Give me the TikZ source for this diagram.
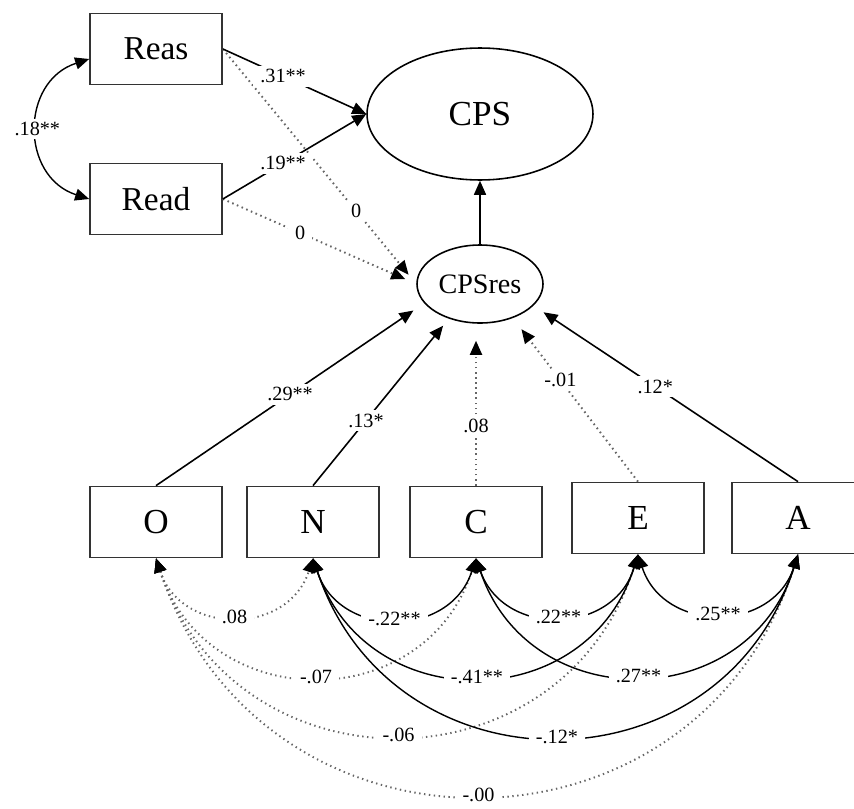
\documentclass[tikz,border=0pt]{standalone}
\usepackage{fontspec}
\setmainfont{Liberation Serif}
\usetikzlibrary{arrows.meta,shapes.geometric}

\begin{document}
\begin{tikzpicture}[x=0.02cm,y=-0.02cm,  %pixel-like units
	obs/.style={draw=black!80, line width=1pt, minimum width=2.64cm, minimum height=1.42cm, inner sep=0pt},
	lat/.style={draw, ellipse, line width=0.9pt, inner sep=0pt},
	reg/.style={-{Triangle[length=0.28cm,width=0.24cm,black]}, line width=0.9pt},
	regns/.style={reg, dotted, draw=black!60, line width=1.1pt},
	cov/.style={{Triangle[length=0.28cm,width=0.24cm,black]}-{Triangle[length=0.28cm,width=0.24cm,black]}, line width=0.8pt, bend right=72, looseness=1.33},
	covns/.style={cov, dotted, draw=black!60, line width=1.1pt},
	coef/.style={fill=white, inner xsep=4pt, inner ysep=2pt, font=\fontsize{11.5}{13}\selectfont}]
	\useasboundingbox (0,0) rectangle (854,808); %Margens
		%Variaveis
	\node[obs, font=\fontsize{19}{22}\selectfont] (reas) at (156,49) {Reas};
	\node[obs, font=\fontsize{19}{22}\selectfont] (read) at (156,199) {Read};
	\node[lat, minimum width=4.52cm, minimum height=2.64cm, font=\fontsize{20}{24}\selectfont] (cps) at (480,114) {CPS};
	\node[lat, minimum width=2.52cm, minimum height=1.56cm, font=\fontsize{16}{19}\selectfont] (cpsres) at (480,284) {CPSres};
	\node[obs, font=\fontsize{20}{24}\selectfont] (o) at (156,522) {O};
	\node[obs, font=\fontsize{20}{24}\selectfont] (n) at (313,522) {N};
	\node[obs, font=\fontsize{20}{24}\selectfont] (c) at (476,522) {C};
	\node[obs, font=\fontsize{20}{24}\selectfont] (e) at (638,518) {E};
	\node[obs, font=\fontsize{20}{24}\selectfont] (a) at (798,518) {A};
		%Caminhos para CPS
	\draw[regns, shorten >=0.24cm] (reas.east) -- node[coef, pos=0.69]{0} (cpsres.west);
	\draw[regns, shorten >=0.24cm] (read.east) -- node[coef, pos=0.4]{0} (cpsres.west);
	\draw[reg] (reas.east) -- node[coef, pos=0.42]{.31**} (cps.west);
	\draw[reg] (read.east) -- node[coef, pos=0.42]{.19**} (cps.west);
	\draw[reg] (cpsres.north) -- (cps.south);
	\draw[cov] ([yshift=-0.2cm]reas.west) to node[coef]{.18**} (read.west); %Covariancia
		%Caminhos para CPSres
	\draw[reg, shorten >=0.26cm] (o.north) -- node[coef, pos=0.5]{.29**} (cpsres.199);
	\draw[reg, shorten >=0.18cm] (n.north) -- node[coef, pos=0.39]{.13*} (cpsres.228);
	\draw[regns, shorten >=0.34cm] (c.north) -- node[coef, pos=0.37]{.08} (c.north |- cpsres.south);
	\draw[regns, shorten >=0.28cm] (e.north) -- node[coef, pos=0.62]{-.01} (cpsres.314);
	\draw[reg, shorten >=0.24cm] (a.north) -- node[coef, pos=0.54]{.12*} (cpsres.338);
		%Covariancias
	\draw[covns] (o.south) to node[coef]{-.00} (a.south);
	\draw[covns] (o.south) to node[coef]{-.06} (e.south);
	\draw[covns] (o.south) to node[coef]{-.07} (c.south);
	\draw[covns] (o.south) to node[coef]{.08} (n.south);
	\draw[cov] (n.south) to node[coef]{-.12*} (a.south);
	\draw[cov] (n.south) to node[coef]{-.41**} (e.south);
	\draw[cov] (c.south) to node[coef]{.27**} (a.south);
	\draw[cov] (n.south) to node[coef]{-.22**} (c.south);
	\draw[cov] (c.south) to node[coef]{.22**} (e.south);
	\draw[cov] (e.south) to node[coef]{.25**} (a.south);
\end{tikzpicture}
\end{document}
